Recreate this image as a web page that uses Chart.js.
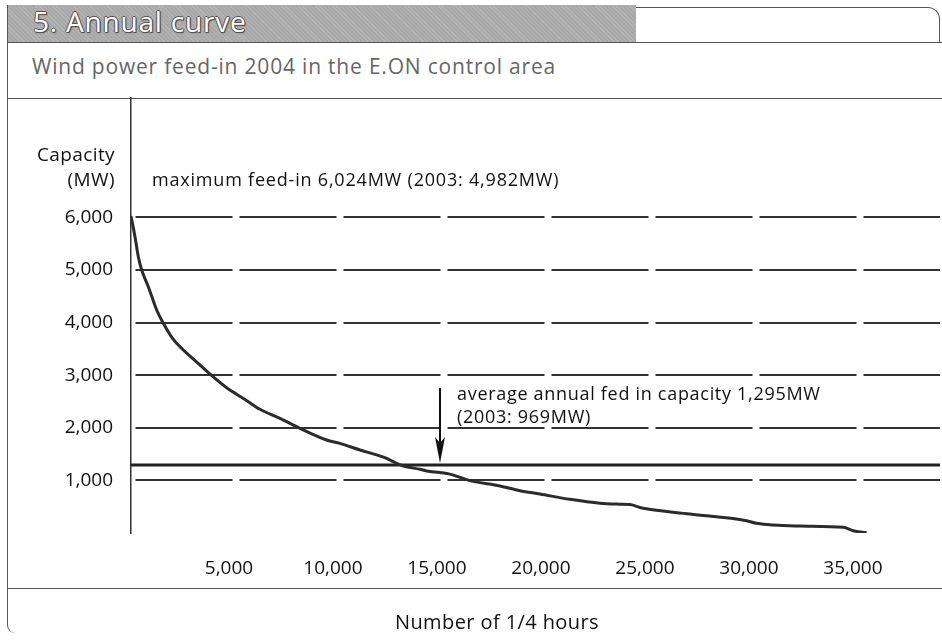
<!DOCTYPE html>
<html><head><meta charset="utf-8">
<script src="https://cdn.jsdelivr.net/npm/chart.js@4"></script>
<style>
body{margin:0;background:#fff;font-family:"Open Sans",sans-serif;}
#wrap{position:relative;width:942px;height:644px;overflow:hidden;background:#fff;}
canvas{position:absolute;left:0;top:0;}
.t{position:absolute;white-space:nowrap;color:#111;line-height:1.2;}
.ln{position:absolute;background:#555;}
</style></head><body>
<div id="wrap">
<div style="position:absolute;left:7px;top:5px;width:629px;height:37px;background:#a9a9a9;background-image:repeating-linear-gradient(45deg,rgba(255,255,255,0.12) 0 1px,transparent 1px 3px);"></div>
<div style="position:absolute;left:636px;top:7px;width:303px;height:35px;border-top:1px solid #555;border-right:1px solid #555;border-top-right-radius:12px;"></div>
<div class="t" style="left:33px;top:5px;font-size:28px;letter-spacing:0.8px;color:#fff;text-shadow:-1px 0 #555,1px 0 #555,0 -1px #555,0 1px #555,1px 1px 1px #333;">5. Annual curve</div>
<div class="ln" style="left:7px;top:42px;width:935px;height:1px;"></div>
<div class="t" style="left:32px;top:54px;font-size:21px;letter-spacing:0.8px;color:#666;">Wind power feed-in 2004 in the E.ON control area</div>
<div class="ln" style="left:7px;top:98px;width:935px;height:1px;"></div>
<div class="ln" style="left:7px;top:588px;width:935px;height:1px;"></div>
<div style="position:absolute;left:7px;top:5px;width:8px;height:628px;border-left:1px solid #555;border-bottom-left-radius:8px;"></div>
<canvas id="c" width="942" height="644"></canvas>
<div class="t" style="left:0;width:115px;text-align:right;top:143px;font-size:19px;letter-spacing:0.4px;">Capacity</div>
<div class="t" style="left:0;width:115px;text-align:right;top:168px;font-size:19px;letter-spacing:0.4px;">(MW)</div>
<div class="t" style="left:152px;top:169px;font-size:18px;letter-spacing:0.8px;">maximum feed-in 6,024MW (2003: 4,982MW)</div>
<div class="t" style="left:457px;top:383px;font-size:18px;letter-spacing:0.7px;">average annual fed in capacity 1,295MW</div>
<div class="t" style="left:457px;top:406px;font-size:18px;letter-spacing:0.7px;">(2003: 969MW)</div>
<div class="t" style="left:395px;top:610px;font-size:20px;letter-spacing:0.4px;">Number of 1/4 hours</div>
</div>
<script>
const quarterHours = [0, 100, 192, 351, 514, 832, 1235, 1553, 2034, 2514, 3159, 3798, 4600, 5480, 6202, 7163, 8125, 9409, 10048, 11010, 12293, 12611, 13091, 13894, 14216, 14856, 15337, 16298, 17740, 18702, 19663, 21106, 22548, 23510, 23990, 24630, 26875, 29600, 30082, 32163, 34245, 34726, 35370];
const capacityMW = [6024, 5830, 5633, 5253, 5000, 4683, 4240, 3987, 3680, 3480, 3250, 3020, 2760, 2540, 2352, 2181, 1990, 1768, 1705, 1578, 1420, 1356, 1274, 1211, 1180, 1150, 1120, 995, 894, 805, 741, 640, 566, 548, 540, 469, 361, 234, 184, 133, 108, 44, 5];
const averageMW = 1295;
const xTicks = [5000, 10000, 15000, 20000, 25000, 30000, 35000];
const yTicks = [1000, 2000, 3000, 4000, 5000, 6000];
const xMax = 38900;
const yMax = 8270;
const arrowAt = 14858, arrowFrom = 2757, arrowTo = 1331;

const arrowPlugin = {
  id: 'arrow',
  afterDatasetsDraw(chart) {
    const {ctx, scales: {x, y}} = chart;
    const px = x.getPixelForValue(arrowAt);
    const y1 = y.getPixelForValue(arrowFrom), y2 = y.getPixelForValue(arrowTo);
    ctx.save();
    ctx.strokeStyle = '#111'; ctx.fillStyle = '#111'; ctx.lineWidth = 2;
    ctx.beginPath(); ctx.moveTo(px, y1); ctx.lineTo(px, y2 - 15); ctx.stroke();
    ctx.beginPath();
    ctx.moveTo(px - 5, y2 - 26); ctx.lineTo(px, y2 - 20); ctx.lineTo(px + 5, y2 - 26); ctx.lineTo(px, y2);
    ctx.closePath(); ctx.fill();
    ctx.restore();
  }
};

const fmt = v => Number(v).toLocaleString('en-US');
new Chart(document.getElementById('c'), {
  type: 'line',
  data: {datasets: [
    {data: quarterHours.map((q, i) => ({x: q, y: capacityMW[i]})), borderColor: '#2b2b2b', borderWidth: 3, pointRadius: 0, cubicInterpolationMode: 'monotone'},
    {data: [{x: 0, y: averageMW}, {x: xMax, y: averageMW}], borderColor: '#222', borderWidth: 3, pointRadius: 0}
  ]},
  options: {
    responsive: false, animation: false,
    layout: {padding: {left: 0, top: 98, right: 2, bottom: 0}},
    plugins: {legend: {display: false}, tooltip: {enabled: false}},
    scales: {
      x: {type: 'linear', min: 0, max: xMax,
        afterBuildTicks: s => { s.ticks = xTicks.map(v => ({value: v})); },
        afterFit: s => { s.height = 111; },
        grid: {display: false}, border: {display: false},
        ticks: {padding: 16, labelOffset: -6, color: '#111', font: {family: 'Open Sans', size: 19}, callback: fmt, maxRotation: 0, autoSkip: false}},
      y: {type: 'linear', min: 0, max: yMax,
        afterBuildTicks: s => { s.ticks = yTicks.map(v => ({value: v})); },
        afterFit: s => { s.width = 131; },
        grid: {color: '#333', lineWidth: 2, drawTicks: false},
        border: {display: true, color: '#333', width: 1.5, dash: [97, 7], dashOffset: -4},
        ticks: {padding: 18, color: '#111', font: {family: 'Open Sans', size: 19}, callback: fmt}}
    }
  },
  plugins: [arrowPlugin]
});
</script>
</body></html>
